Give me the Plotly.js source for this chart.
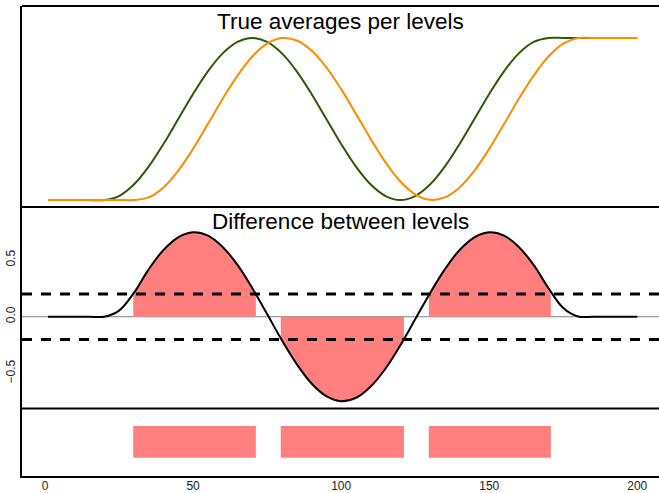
<!DOCTYPE html>
<html>
<head>
<meta charset="utf-8">
<script src="https://cdn.plot.ly/plotly-3.0.1.min.js"></script>
<style>
  html, body { margin: 0; padding: 0; background: #ffffff; }
  #chart { width: 659px; height: 493px; }
</style>
</head>
<body>
<div id="chart"></div>
<script>
// Positions along the x axis where the level averages are sampled
const positions = [1, 5, 10, 15, 20, 25, 30, 35, 40, 45, 50, 55, 60, 65, 70, 75, 80, 85, 90, 95, 100,
                   105, 110, 115, 120, 125, 130, 135, 140, 145, 150, 155, 160, 165, 170, 175, 180, 185, 190, 195, 200];

// True average of the first level (green curve)
const levelA = [-1.1, -1.1, -1.1, -1.1, -1.1, -1.046, -0.890, -0.647, -0.340, 0.000, 0.340, 0.647, 0.890, 1.046, 1.1, 1.046,
                0.890, 0.647, 0.340, 0.000, -0.340, -0.647, -0.890, -1.046, -1.1, -1.046, -0.890, -0.647, -0.340, 0.000,
                0.340, 0.647, 0.890, 1.046, 1.1, 1.1, 1.1, 1.1, 1.1, 1.1, 1.1];

// True average of the second level (orange curve)
const levelB = [-1.1, -1.1, -1.1, -1.1, -1.1, -1.1, -1.1, -1.065, -0.929, -0.701, -0.405, -0.069, 0.274, 0.589, 0.848, 1.023,
                1.098, 1.065, 0.929, 0.701, 0.405, 0.069, -0.274, -0.589, -0.848, -1.023, -1.098, -1.065, -0.929, -0.701,
                -0.405, -0.069, 0.274, 0.589, 0.848, 1.023, 1.098, 1.1, 1.1, 1.1, 1.1];

// Threshold for a relevant difference, and the stretches where |difference| exceeds it
const threshold = 0.2;
const regionStart = [29.8, 79.6, 129.6];
const regionEnd = [71.2, 121.2, 170.8];

// Difference between the two levels
const diffLevels = levelA.map((v, i) => +(v - levelB[i]).toFixed(3));

const GREEN = '#2c5905';
const ORANGE = '#ff8c00';
const FILL = '#ff7f7f';

const traces = [];

// Top panel: true averages
traces.push({
  x: positions, y: levelA, xaxis: 'x', yaxis: 'y', type: 'scatter', mode: 'lines',
  line: { color: GREEN, width: 2, shape: 'spline' }
});
traces.push({
  x: positions, y: levelB, xaxis: 'x', yaxis: 'y', type: 'scatter', mode: 'lines',
  line: { color: ORANGE, width: 2, shape: 'spline' }
});

// Middle panel: shaded areas where the difference passes the threshold
regionStart.forEach((s, r) => {
  const e = regionEnd[r];
  const mid = positions.reduce((best, p, i) =>
    Math.abs(p - (s + e) / 2) < Math.abs(positions[best] - (s + e) / 2) ? i : best, 0);
  const sign = diffLevels[mid] >= 0 ? 1 : -1;
  const fx = [s], fy = [sign * threshold];
  positions.forEach((p, i) => {
    if (p > s + 1 && p < e - 1) { fx.push(p); fy.push(diffLevels[i]); }
  });
  fx.push(e); fy.push(sign * threshold);
  traces.push({
    x: fx, y: fy, xaxis: 'x', yaxis: 'y2', type: 'scatter', mode: 'lines',
    fill: 'tozeroy', fillcolor: FILL,
    line: { width: 0, shape: 'spline', color: FILL }
  });
});

// Middle panel: the difference curve
traces.push({
  x: positions, y: diffLevels, xaxis: 'x', yaxis: 'y2', type: 'scatter', mode: 'lines',
  line: { color: '#000000', width: 2, shape: 'spline' }
});

// Bottom panel: one bar per relevant stretch
const barBase = 0.27, barHeight = 0.47;
traces.push({
  type: 'bar', xaxis: 'x', yaxis: 'y3',
  x: regionStart.map((s, i) => (s + regionEnd[i]) / 2),
  width: regionStart.map((s, i) => regionEnd[i] - s),
  y: regionStart.map(() => barHeight),
  base: regionStart.map(() => barBase),
  marker: { color: FILL, line: { width: 0 } }
});

// Panel boundaries (paper fractions of the plot area)
const topLow = 0.5723, midLow = 0.1436;

const shapes = [
  { type: 'line', xref: 'paper', yref: 'paper', x0: 0, x1: 1, y0: 1, y1: 1, line: { color: '#000', width: 2 } },
  { type: 'line', xref: 'paper', yref: 'paper', x0: 0, x1: 1, y0: topLow, y1: topLow, line: { color: '#000', width: 2 } },
  { type: 'line', xref: 'paper', yref: 'paper', x0: 0, x1: 1, y0: midLow, y1: midLow, line: { color: '#000', width: 2 } },
  { type: 'line', xref: 'paper', yref: 'y2', x0: 0, x1: 1, y0: 0, y1: 0, layer: 'below', line: { color: '#808080', width: 1 } },
  { type: 'line', xref: 'paper', yref: 'y2', x0: 0, x1: 1, y0: threshold, y1: threshold, line: { color: '#000', width: 3, dash: '10px,9px' } },
  { type: 'line', xref: 'paper', yref: 'y2', x0: 0, x1: 1, y0: -threshold, y1: -threshold, line: { color: '#000', width: 3, dash: '10px,9px' } }
];

const titleFont = { family: 'Liberation Sans, Arial, sans-serif', size: 22.5, color: '#000' };
const annotations = [
  { text: 'True averages per levels', xref: 'paper', yref: 'paper', x: 0.5, y: 0.967,
    xanchor: 'center', yanchor: 'middle', showarrow: false, font: titleFont },
  { text: 'Difference between levels', xref: 'paper', yref: 'paper', x: 0.5, y: 0.5415,
    xanchor: 'center', yanchor: 'middle', showarrow: false, font: titleFont }
];

const tickFont = { family: 'Liberation Sans, Arial, sans-serif', size: 12, color: '#222' };

const layout = {
  width: 659, height: 493,
  margin: { l: 22, r: 0, t: 6, b: 17, pad: 0 },
  paper_bgcolor: '#ffffff', plot_bgcolor: '#ffffff',
  showlegend: false,
  hovermode: false,
  xaxis: {
    range: [-7.77, 207.33], anchor: 'y3', domain: [0, 1],
    showgrid: false, zeroline: false,
    showline: true, linecolor: '#000', linewidth: 2,
    ticks: '', ticklabelstandoff: -2,
    tickvals: [0, 50, 100, 150, 200], tickfont: tickFont
  },
  yaxis: {
    domain: [topLow, 1], range: [-1.195, 1.533], anchor: 'x',
    showgrid: false, zeroline: false, showticklabels: false, ticks: '',
    showline: true, linecolor: '#000', linewidth: 2
  },
  yaxis2: {
    domain: [midLow, topLow], range: [-0.810, 0.968], anchor: 'x',
    showgrid: false, zeroline: false, ticks: '',
    tickvals: [-0.5, 0, 0.5], ticktext: ['\u22120.5', '0.0', '0.5'], tickangle: -90, tickfont: tickFont,
    showline: true, linecolor: '#000', linewidth: 2
  },
  yaxis3: {
    domain: [0, midLow], range: [0, 1], anchor: 'x',
    showgrid: false, zeroline: false, showticklabels: false, ticks: '',
    showline: true, linecolor: '#000', linewidth: 2
  },
  shapes: shapes,
  annotations: annotations
};

Plotly.newPlot('chart', traces, layout, { staticPlot: true, displayModeBar: false });
</script>
</body>
</html>
